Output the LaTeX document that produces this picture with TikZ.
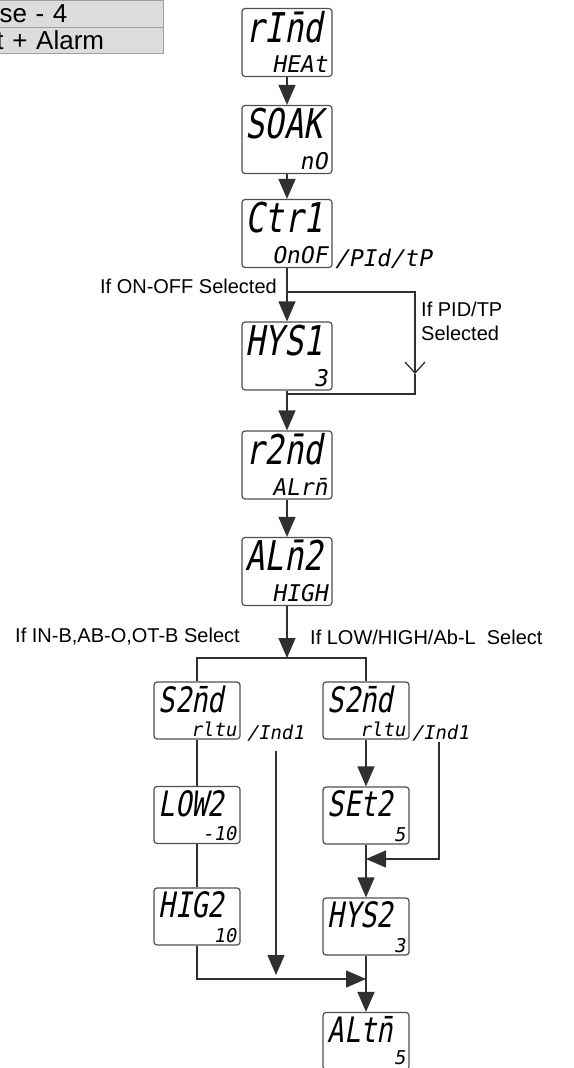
\documentclass[tikz,border=0pt]{standalone}
\usepackage{fontspec}
\setmainfont{Liberation Sans}
\newfontfamily\segfont{DejaVu Sans Mono}[FakeSlant=0.18,FakeStretch=0.78]
\newfontfamily\segfontw{DejaVu Sans Mono}[FakeSlant=0.18]
\usetikzlibrary{arrows.meta}
\definecolor{boxc}{HTML}{505050}
\definecolor{linec}{HTML}{303030}
\definecolor{tabfill}{HTML}{DCDCDC}
\definecolor{tabdraw}{HTML}{A0A0A0}
\tikzset{
  lcd/.style={draw=boxc, line width=1.2pt, rounded corners=3pt, minimum width=90pt, minimum height=68pt, inner sep=0pt},
  lcds/.style={lcd, minimum width=86pt, minimum height=57pt},
  bigt/.style={anchor=north west, inner sep=0pt, xshift=4pt, yshift=-3pt, font=\fontsize{41}{41}\segfont},
  smallt/.style={anchor=south east, inner sep=0pt, xshift=-5pt, yshift=4pt, font=\fontsize{23}{23}\segfontw},
  bigs/.style={anchor=north west, inner sep=0pt, xshift=5pt, yshift=-4pt, font=\fontsize{35}{35}\segfont},
  smalls/.style={anchor=south east, inner sep=0pt, xshift=-4pt, yshift=3pt, font=\fontsize{19}{19}\segfontw},
  ln/.style={draw=linec, line width=1.3pt},
  arr/.style={ln, -{Triangle[length=20pt,width=17pt]}},
  chev/.style={ln, -{Straight Barb[length=11pt,width=20pt]}},
  lbl/.style={inner sep=0pt, font=\fontsize{20}{24}\selectfont, text=black},
  tabcell/.style={draw=tabdraw, fill=tabfill, line width=1pt, inner sep=0pt, anchor=north west, minimum width=166pt, text width=166pt, align=left, font=\fontsize{26}{26}\selectfont}
}
\begin{document}
\begin{tikzpicture}[x=1pt,y=-1pt]
\path[use as bounding box, clip] (0,0) rectangle (573,1068);
\fill[white] (0,0) rectangle (573,1068);
% header table
\node[tabcell, minimum height=27pt] (h1) at (-3,0) {\hspace*{2pt}se - 4};
\node[tabcell, minimum height=26pt] (h2) at (-3,27) {\hspace*{-1pt}t + Alarm};
% main column
\node[lcd, label={[bigt]north west:{rI\=nd}}, label={[smallt]south east:{HEAt}}] (n1) at (287,42.5) {};
\node[lcd, label={[bigt]north west:{SOAK}}, label={[smallt]south east:{nO}}] (n2) at (287,139.5) {};
\node[lcd, label={[bigt]north west:{Ctr1}}, label={[smallt]south east:{OnOF}}] (n3) at (287,233.5) {};
\node[anchor=south west, inner sep=0pt, xshift=2pt, yshift=-1pt, font=\fontsize{23}{23}\segfontw] (o3) at (n3.south east) {/PId/tP};
\node[lcd, label={[bigt]north west:{HYS1}}, label={[smallt]south east:{3}}] (n4) at (287,356) {};
\node[lcd, label={[bigt]north west:{r2\=nd}}, label={[smallt]south east:{ALr\=n}}] (n5) at (287,465) {};
\node[lcd, label={[bigt]north west:{AL\=n2}}, label={[smallt]south east:{HIGH}}] (n6) at (287,571.5) {};
% lower columns
\node[lcds, label={[bigs]north west:{S2\=nd}}, label={[smalls]south east:{rltu}}] (L1) at (197,710.5) {};
\node[anchor=south west, inner sep=0pt, xshift=6pt, yshift=-2pt, font=\fontsize{19}{19}\segfontw] (oL) at (L1.south east) {/Ind1};
\node[lcds, label={[bigs]north west:{LOW2}}, label={[smalls]south east:{-10}}] (L2) at (197,815) {};
\node[lcds, label={[bigs]north west:{HIG2}}, label={[smalls]south east:{10}}] (L3) at (197,916.5) {};
\node[lcds, label={[bigs]north west:{S2\=nd}}, label={[smalls]south east:{rltu}}] (R1) at (366,710.5) {};
\node[anchor=south west, inner sep=0pt, xshift=2pt, yshift=-2pt, font=\fontsize{19}{19}\segfontw] (oR) at (R1.south east) {/Ind1};
\node[lcds, label={[bigs]north west:{SEt2}}, label={[smalls]south east:{5}}] (R2) at (366,815.5) {};
\node[lcds, label={[bigs]north west:{HYS2}}, label={[smalls]south east:{3}}] (R3) at (366,926.5) {};
\node[lcds, label={[bigs]north west:{ALt\=n}}, label={[smalls, yshift=2pt]south east:{5}}] (R4) at (366,1041) {};
% labels
\node[lbl, anchor=east] (t1) at (277,286) {If ON-OFF Selected};
\node[lbl, anchor=north west, align=left] (t2) at (421,302) {If PID/TP\\Selected};
\node[lbl, anchor=west] (t3) at (15,637) {If IN-B,AB-O,OT-B Select};
\node[lbl, anchor=west] (t4) at (310,637) {If LOW/HIGH/Ab-L\ \ Select};
% connectors
\draw[arr] (n1) -- (n2);
\draw[arr] (n2) -- (n3);
\draw[arr] (n3) -- (n4);
\coordinate (b1) at (287,292);
\coordinate (b2) at (415,292);
\coordinate (b3) at (415,374);
\coordinate (b4) at (415,394);
\coordinate (b5) at (287,394);
\draw[chev] (b1) -- (b2) -- (b3);
\draw[ln] (b3) -- (b4) -- (b5);
\draw[arr] (n4) -- (n5);
\draw[arr] (n5) -- (n6);
\coordinate (s0) at (287,658);
\coordinate (sl) at (197,658);
\coordinate (sr) at (366,658);
\draw[arr] (n6) -- (s0);
\draw[ln] (L1.north) -- (sl) -- (sr) -- (R1.north);
\draw[ln] (L1) -- (L2);
\draw[ln] (L2) -- (L3);
\coordinate (jl) at (197,979);
\coordinate (jr) at (366,979);
\draw[arr] (L3) -- (jl) -- (jr);
\coordinate (li1) at (276,751);
\coordinate (li2) at (276,975);
\draw[arr] (li1) -- (li2);
\draw[arr] (R1) -- (R2);
\draw[arr] (R2) -- (R3);
\draw[arr] (R3) -- (R4);
\coordinate (ri1) at (439,742);
\coordinate (ri2) at (439,859);
\coordinate (ri3) at (366,859);
\draw[arr] (ri1) -- (ri2) -- (ri3);
\end{tikzpicture}
\end{document}
